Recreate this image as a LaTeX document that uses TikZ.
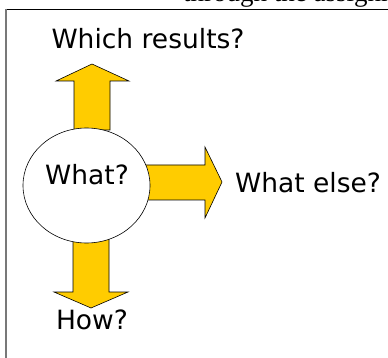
\documentclass[tikz,border=0pt]{standalone}
\usepackage{fontspec}
\setmainfont{DejaVu Sans}
\newfontfamily\titlefont{Liberation Serif}

\begin{document}
\begin{tikzpicture}[x=1pt,y=-1pt]
	\definecolor{arrowyellow}{RGB}{255,204,0}
	\definecolor{framegray}{RGB}{120,120,120}
	\tikzset{blockarrow/.style={fill=arrowyellow,draw=black,line width=0.6pt,line join=miter}}
	\tikzset{label/.style={inner sep=0pt,font=\fontsize{26.5}{30}\selectfont}}

	\useasboundingbox (0,0) rectangle (388,358);
	\clip (0,0) rectangle (388,358);
	\fill[white] (0,0) rectangle (388,358);

	% cut-off title above the frame
	\node[anchor=base west,inner sep=0pt,font=\titlefont\fontsize{27}{30}\selectfont] (title) at (183,2) {through the assignment};

	% frame
	\draw[black,line width=0.8pt] (6,9) -- (388,9);
	\draw[framegray,line width=1.6pt] (6,9) -- (6,358);

	% arrows
	\draw[blockarrow] (74,130) -- (74,81) -- (56,81) -- (92,64) -- (129,81) -- (110,81) -- (110,130) -- cycle;
	\draw[blockarrow] (140,165) -- (205,165) -- (205,147) -- (222,182) -- (205,218) -- (205,200) -- (140,200) -- cycle;
	\draw[blockarrow] (73,230) -- (73,292) -- (54,292) -- (91,308) -- (128,292) -- (109,292) -- (109,230) -- cycle;

	% centre
	\draw[fill=white,line width=0.6pt] (86.5,185.5) ellipse [x radius=63.5,y radius=57.5];
	\node[label] (what) at (87,175) {What?};

	\node[label] (which) at (148,39) {Which results?};
	\node[label] (else) at (308,183) {What else?};
	\node[label] (how) at (92,320) {How?};
\end{tikzpicture}
\end{document}
